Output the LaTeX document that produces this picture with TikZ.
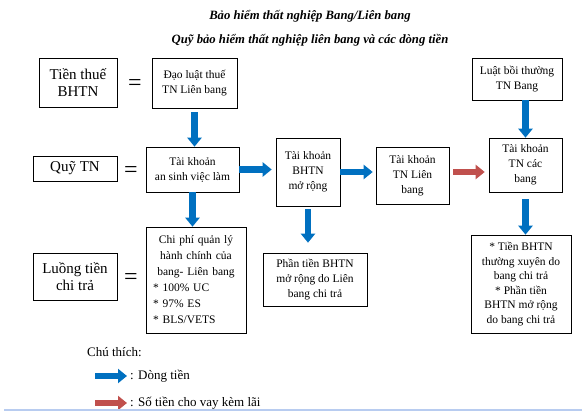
\documentclass[tikz,border=0pt]{standalone}
\usepackage{fontspec}
\setmainfont{Liberation Serif}
\usetikzlibrary{arrows.meta}
\definecolor{flowblue}{RGB}{0,112,192}
\definecolor{loanred}{RGB}{192,80,77}
\definecolor{pagerule}{RGB}{184,204,240}

\begin{document}
\begin{tikzpicture}[x=1pt, y=-1pt,
	bigbox/.style={draw, line width=0.6pt, align=center, inner sep=0pt, font=\fontsize{15}{16.5}\selectfont},
	smallbox/.style={draw, line width=0.6pt, align=center, inner sep=0pt, font=\fontsize{11.5}{15}\selectfont},
	eqsign/.style={font=\fontsize{24}{24}\selectfont},
	titletext/.style={font=\fontsize{12.7}{12.7}\selectfont\bfseries\itshape},
	keytext/.style={anchor=west, inner sep=0pt, font=\fontsize{13}{13}\selectfont},
	flow/.style={draw=flowblue, line width=6.5pt, -{Triangle[length=9pt,width=14pt]}},
	loan/.style={flow, draw=loanred}]
			%%%%% START %%%%%
			
			\useasboundingbox (0, 0) rectangle (586, 419);
			
			\node[titletext] (title1) at (310, 16) {Bảo hiểm thất nghiệp Bang/Liên bang};
			\node[titletext] (title2) at (310, 40) {Quỹ bảo hiểm thất nghiệp liên bang và các dòng tiền};
			
			% left column
			\node[bigbox, minimum width=78pt, minimum height=49pt] (thue) at (78, 82.5) {Tiền thuế\\BHTN};
			\node[bigbox, minimum width=84pt, minimum height=25pt] (quy) at (75, 168.5) {Quỹ TN};
			\node[bigbox, minimum width=84pt, minimum height=47pt] (luong) at (75, 276.5) {Luồng tiền\\chi trả};
			
			\node[eqsign] (eq1) at (135, 85) {=};
			\node[eqsign] (eq2) at (131, 172) {=};
			\node[eqsign] (eq3) at (131, 279) {=};
			
			% boxes
			\node[smallbox, minimum width=85pt, minimum height=50pt] (dao) at (194.5, 83) {Đạo luật thuế\\TN Liên bang};
			\node[smallbox, minimum width=93pt, minimum height=45pt] (ansinh) at (192.5, 169.5) {Tài khoản\\an sinh việc làm};
			\node[smallbox, text width=86pt, inner xsep=7pt, minimum width=100pt, minimum height=106pt, font=\fontsize{11.5}{16}\selectfont] (chiphi) at (196, 280) {\centering Chi phí quản lý\\hành chính của\\bang- Liên bang\par\raggedright * 100\% UC\\{}* 97\% ES\\{}* BLS/VETS\par};
			
			\node[smallbox, minimum width=64pt, minimum height=68pt] (morong) at (308, 172) {Tài khoản\\BHTN\\mở rộng};
			\node[smallbox, minimum width=104pt, minimum height=53pt] (phantien) at (315, 279.5) {Phần tiền BHTN\\mở rộng do Liên\\bang chi trả};
			
			\node[smallbox, minimum width=73pt, minimum height=57pt] (tnlb) at (412.5, 175.5) {Tài khoản\\TN Liên\\bang};
			
			\node[smallbox, minimum width=90pt, minimum height=42pt] (luat) at (517, 79) {Luật bồi thường\\TN Bang};
			\node[smallbox, minimum width=73pt, minimum height=54pt] (cacbang) at (525.5, 165) {Tài khoản\\TN các\\bang};
			\node[smallbox, minimum width=100pt, minimum height=98pt, font=\fontsize{11.5}{14.5}\selectfont] (bangchi) at (521, 284) {* Tiền BHTN\\thường xuyên do\\bang chi trả\\{}* Phần tiền\\BHTN mở rộng\\do bang chi trả};
			
			% money flows
			\draw[flow, shorten <=4pt] (dao.south) -- (dao.south |- ansinh.north);
			\draw[flow] (ansinh.south) -- (ansinh.south |- chiphi.north);
			\draw[flow, shorten >=4pt] (ansinh.east) -- (ansinh.east -| morong.west);
			\draw[flow, shorten >=3pt] (morong.east) -- (morong.east -| tnlb.west);
			\draw[flow, shorten <=3pt, shorten >=10pt] (morong.south) -- (morong.south |- phantien.north);
			\draw[loan, shorten <=4pt, shorten >=4pt] (tnlb.east |- morong.east) -- (cacbang.west |- morong.east);
			\draw[flow] (cacbang.north |- luat.south) -- (cacbang.north);
			\draw[flow, shorten <=7pt] (cacbang.south) -- (cacbang.south |- bangchi.north);
			
			% legend
			\node[keytext] (keyhead) at (87, 352) {Chú thích:};
			\coordinate (keyflowA) at (95, 376);
			\coordinate (keyflowB) at (127, 376);
			\coordinate (keyloanA) at (95, 403);
			\coordinate (keyloanB) at (127, 403);
			\draw[flow] (keyflowA) -- (keyflowB);
			\draw[loan] (keyloanA) -- (keyloanB);
			\node[keytext] (keyflow) at (130, 376) {: Dòng tiền};
			\node[keytext] (keyloan) at (130, 403) {: Số tiền cho vay kèm lãi};
			
			\draw[pagerule, line width=2pt] (4, 410) -- (582, 410);
			
			%%%%% END %%%%%
\end{tikzpicture}
\end{document}
